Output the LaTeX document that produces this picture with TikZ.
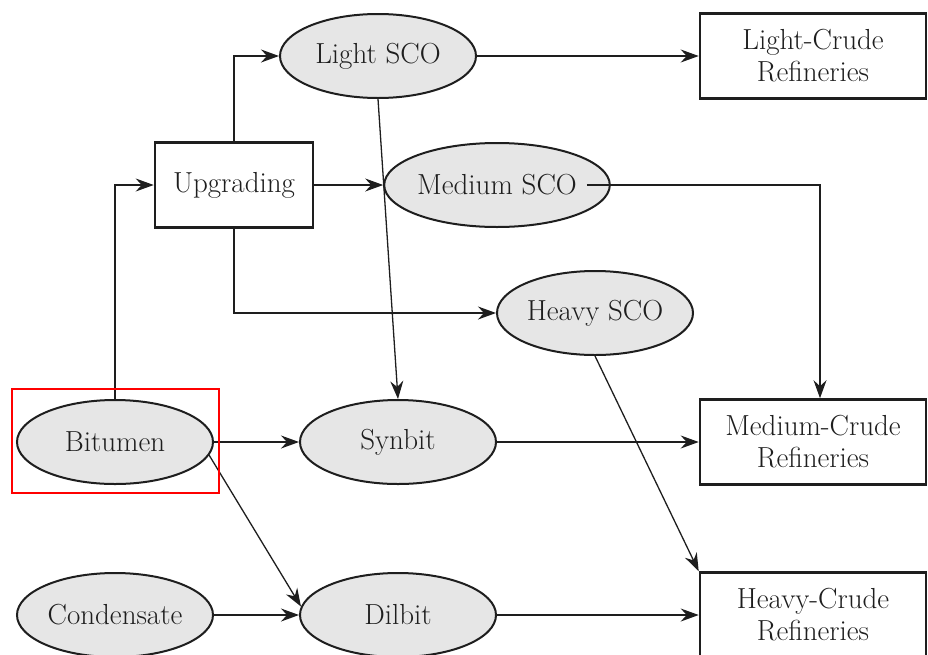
\documentclass[tikz,border=0pt]{standalone}
\usetikzlibrary{arrows.meta,shapes.geometric}
\definecolor{inkgray}{HTML}{1E1E1E}
\definecolor{oilfill}{HTML}{E6E6E6}

\begin{document}
\begin{tikzpicture}[
                x=1pt, y=-1pt,
                every node/.style={font=\fontsize{29}{32}\selectfont, text=inkgray},
                oil/.style={ellipse, draw=inkgray, fill=oilfill, line width=2pt,
                    minimum width=196pt, minimum height=84pt, inner sep=0pt},
                plant/.style={rectangle, draw=inkgray, line width=2.6pt,
                    minimum height=85pt, inner sep=0pt, align=center},
                arr/.style={draw=inkgray, line width=1.3pt,
                    -{Stealth[length=18pt, width=13pt, inset=6pt]}}
            ]

                \useasboundingbox (0,0) rectangle (928,654);

                % products
                \node[oil] (lsco) at (378,56) {Light SCO};
                \node[oil] (msco) at (497,185) {Medium SCO};
                \node[oil] (hsco) at (595,313) {Heavy SCO};
                \node[oil] (bit) at (115,442) {Bitumen};
                \node[oil] (syn) at (398,442) {Synbit};
                \node[oil] (cond) at (115,615) {Condensate};
                \node[oil] (dil) at (398,615) {Dilbit};

                % plants
                \node[plant, minimum width=158pt] (upg) at (234,185) {Upgrading};
                \node[plant, minimum width=226pt] (lcr) at (813,56) {Light-Crude\\Refineries};
                \node[plant, minimum width=226pt] (mcr) at (813,442) {Medium-Crude\\Refineries};
                \node[plant, minimum width=226pt] (hcr) at (813,615) {Heavy-Crude\\Refineries};

                \draw[arr] (bit.north) |- (upg.west);
                \draw[arr] (upg.north) |- (lsco.west);
                \draw[arr] (upg.east) -- (msco.west);
                \draw[arr] (upg.south) |- (hsco.west);
                \draw[arr] (lsco.east) -- (lcr.west);
                \draw[arr] (lsco.south) -- (syn.north);
                \draw[arr] ([xshift=-24pt]msco.east) -| ([xshift=7pt]mcr.north);
                \draw[arr] (hsco.south) -- (hcr.north west);
                \draw[arr] (bit.east) -- (syn.west);
                \draw[arr] (bit.-8) -- (dil.175);
                \draw[arr] (syn.east) -- (mcr.west);
                \draw[arr] (cond.east) -- (dil.west);
                \draw[arr] (dil.east) -- (hcr.west);

                \draw[red, line width=2.6pt] (12,389) rectangle (219,493);

            \end{tikzpicture}
\end{document}
